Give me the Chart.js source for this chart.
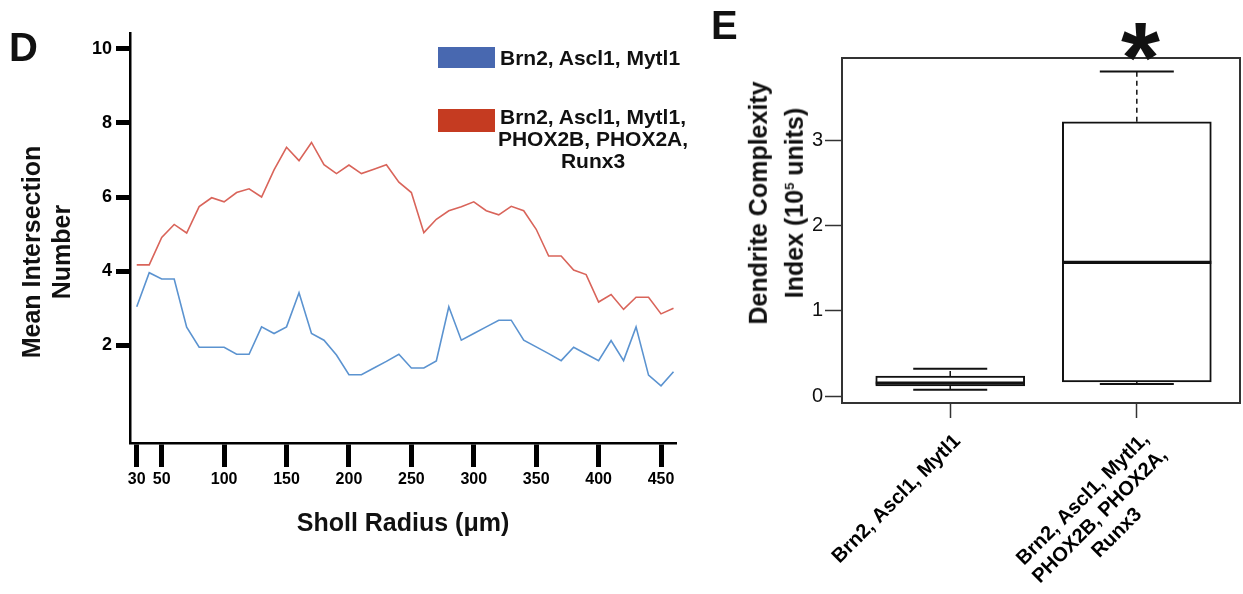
<!DOCTYPE html>
<html>
<head>
<meta charset="utf-8">
<script src="https://cdn.jsdelivr.net/npm/chart.js@4.4.1/dist/chart.umd.min.js"></script>
<style>
  body { margin: 0; background: #fff; font-family: "Liberation Sans", Arial, sans-serif; }
  #page { position: relative; width: 1243px; height: 594px; overflow: hidden; }
  .panel { position: absolute; top: 0; height: 594px; }
  .txt { position: absolute; font-weight: bold; color: #111; white-space: nowrap; }
  .ytitle { position: absolute; font-weight: bold; color: #111; font-size: 25px; text-align: center; white-space: nowrap;
            transform: translate(-50%, -50%) rotate(-90deg); }
  .swatch { position: absolute; width: 57px; }
</style>
</head>
<body>
<div id="page">
  <div class="panel" style="left:0; width:700px;"><canvas id="sholl-chart"></canvas></div>
  <div class="panel" style="left:700px; width:543px;"><canvas id="dci-chart"></canvas></div>

  <div class="txt" style="left:9px; top:27px; font-size:40px; line-height:40px;">D</div>
  <div class="txt" style="left:711px; top:5px; font-size:40px; line-height:40px;">E</div>
  <div class="txt" style="left:1121px; top:7px; font-size:100px; line-height:100px;">*</div>

  <div class="ytitle" style="left:46px; top:252px; line-height:30px;">Mean Intersection<br>Number</div>
  <div class="ytitle" style="left:776px; top:203px; line-height:32px;">Dendrite Complexity<br>Index (10<sup style="font-size:13px;">5</sup> units)</div>

  <div class="swatch" style="left:438px; top:47px; height:21px; background:#4868b0;"></div>
  <div class="txt" id="leg1" style="left:500px; top:46px; font-size:21px; line-height:24px;"></div>
  <div class="swatch" style="left:438px; top:109px; height:23px; background:#c53b21;"></div>
  <div class="txt" id="leg2" style="left:593px; top:106px; font-size:21px; line-height:22px; text-align:center; transform:translateX(-50%);"></div>
</div>

<script>
// panel D: Sholl analysis
const seriesNames = ['Brn2, Ascl1, Mytl1', 'Brn2, Ascl1, Mytl1, PHOX2B, PHOX2A, Runx3'];
const radii = [30, 40, 50, 60, 70, 80, 90, 100, 110, 120, 130, 140, 150, 160, 170, 180, 190, 200, 210, 220, 230, 240,
               250, 260, 270, 280, 290, 300, 310, 320, 330, 340, 350, 360, 370, 380, 390, 400, 410, 420, 430, 440, 450, 460];
const blueCounts = [3.04, 3.96, 3.79, 3.79, 2.49, 1.95, 1.95, 1.95, 1.76, 1.76, 2.50, 2.32, 2.50, 3.42, 2.32, 2.14, 1.74, 1.21, 1.21, 1.39, 1.57, 1.76,
                    1.39, 1.39, 1.58, 3.04, 2.14, 2.32, 2.50, 2.68, 2.68, 2.14, 1.96, 1.78, 1.59, 1.95, 1.77, 1.59, 2.13, 1.59, 2.50, 1.20, 0.91, 1.29];
const redCounts = [4.17, 4.17, 4.91, 5.26, 5.03, 5.74, 5.98, 5.87, 6.12, 6.22, 6.00, 6.73, 7.34, 6.98, 7.47, 6.87, 6.63, 6.86, 6.63, 6.75, 6.87, 6.40,
                   6.12, 5.04, 5.40, 5.63, 5.74, 5.87, 5.63, 5.52, 5.75, 5.63, 5.13, 4.41, 4.41, 4.03, 3.91, 3.17, 3.37, 2.97, 3.30, 3.30, 2.85, 3.00];
const xTicks = [30, 50, 100, 150, 200, 250, 300, 350, 400, 450];
const yTicks = [2, 4, 6, 8, 10];

// panel E: dendrite complexity index box plot
const boxLabels = [['Brn2, Ascl1, Mytl1'], ['Brn2, Ascl1, Mytl1,', 'PHOX2B, PHOX2A,', 'Runx3']];
const boxMin = [0.075, 0.14];
const boxQ1 = [0.118, 0.165];
const boxMedian = [0.153, 1.57];
const boxQ3 = [0.235, 3.22];
const boxMax = [0.32, 3.81];
const dciTicks = [0, 1, 2, 3];

document.getElementById('leg1').textContent = seriesNames[0];
document.getElementById('leg2').innerHTML = 'Brn2, Ascl1, Mytl1,<br>PHOX2B, PHOX2A,<br>Runx3';

Chart.defaults.font.family = '"Liberation Sans", Arial, sans-serif';
Chart.defaults.color = '#000';

const shollChart = new Chart(document.getElementById('sholl-chart'), {
  type: 'line',
  data: {
    datasets: [
      {
        label: seriesNames[0],
        data: radii.map((r, i) => ({x: r, y: blueCounts[i]})),
        borderColor: '#5b93d0',
        borderWidth: 1.6,
        pointRadius: 0,
      },
      {
        label: seriesNames[1],
        data: radii.map((r, i) => ({x: r, y: redCounts[i]})),
        borderColor: '#d9645a',
        borderWidth: 1.6,
        pointRadius: 0,
      }
    ]
  },
  options: {
    responsive: true,
    maintainAspectRatio: false,
    animation: false,
    layout: {padding: {top: 33, right: 24, left: 0, bottom: 0}},
    plugins: {legend: {display: false}, tooltip: {enabled: false}},
    scales: {
      x: {
        type: 'linear',
        min: 24.6,
        max: 462,
        afterBuildTicks: s => { s.ticks = xTicks.map(v => ({value: v})); },
        ticks: {autoSkip: false, maxRotation: 0, padding: 3, font: {size: 16, weight: 'bold'}, color: '#000'},
        grid: {drawOnChartArea: false, tickLength: 24, tickWidth: 5, tickColor: '#000'},
        border: {width: 2.5, color: '#000'},
        title: {display: true, text: 'Sholl Radius (\u03bcm)', font: {size: 25, weight: 'bold'}, color: '#111', padding: {top: 0, bottom: 55}},
        afterFit: s => { s.height = 151; s.paddingLeft = 0; s.paddingRight = 0; }
      },
      y: {
        min: -0.63,
        max: 10.42,
        afterBuildTicks: s => { s.ticks = yTicks.map(v => ({value: v})); },
        ticks: {padding: 4, font: {size: 18, weight: 'bold'}, color: '#000'},
        grid: {drawOnChartArea: false, tickLength: 14, tickWidth: 5, tickColor: '#000'},
        border: {width: 2.5, color: '#000'},
        afterFit: s => { s.width = 130; s.paddingTop = 0; s.paddingBottom = 0; }
      }
    }
  }
});

// whiskers, medians, the closed frame and the slanted group names of the box plot
const boxWhiskers = {
  id: 'boxWhiskers',
  afterDatasetsDraw(chart) {
    const {ctx, chartArea: a, scales: {x, y}} = chart;
    const seg = (x1, y1, x2, y2) => { ctx.beginPath(); ctx.moveTo(x1, y1); ctx.lineTo(x2, y2); ctx.stroke(); };
    ctx.save();
    ctx.strokeStyle = '#111';
    boxLabels.forEach((l, i) => {
      const cx = x.getPixelForValue(i + 1);
      const half = 74.5, cap = 37;
      ctx.lineWidth = 1.5;
      ctx.setLineDash([5, 4]);
      seg(cx, y.getPixelForValue(boxQ3[i]), cx, y.getPixelForValue(boxMax[i]));
      seg(cx, y.getPixelForValue(boxQ1[i]), cx, y.getPixelForValue(boxMin[i]));
      ctx.setLineDash([]);
      ctx.lineWidth = 2;
      seg(cx - cap, y.getPixelForValue(boxMax[i]), cx + cap, y.getPixelForValue(boxMax[i]));
      seg(cx - cap, y.getPixelForValue(boxMin[i]), cx + cap, y.getPixelForValue(boxMin[i]));
      ctx.lineWidth = 3.2;
      seg(cx - half, y.getPixelForValue(boxMedian[i]), cx + half, y.getPixelForValue(boxMedian[i]));
    });
    ctx.strokeStyle = '#333';
    ctx.lineWidth = 2;
    ctx.strokeRect(a.left, a.top, a.right - a.left, a.bottom - a.top);
    ctx.restore();
  },
  afterDraw(chart) {
    const {ctx, chartArea: a, scales: {x}} = chart;
    ctx.save();
    ctx.fillStyle = '#000';
    ctx.font = 'bold 20px "Liberation Sans", Arial, sans-serif';
    ctx.textAlign = 'center';
    ctx.textBaseline = 'middle';
    boxLabels.forEach((lines, i) => {
      ctx.save();
      ctx.translate(x.getPixelForValue(i + 1), a.bottom);
      ctx.rotate(-Math.PI / 4);
      lines.forEach((t, j) => ctx.fillText(t, -106, 30 + 24 * j));
      ctx.restore();
    });
    ctx.restore();
  }
};

const dciChart = new Chart(document.getElementById('dci-chart'), {
  type: 'bar',
  data: {
    datasets: [{
      data: boxLabels.map((l, i) => ({x: i + 1, y: [boxQ1[i], boxQ3[i]]})),
      backgroundColor: '#fff',
      borderColor: '#111',
      borderWidth: 2,
      borderSkipped: false,
      barThickness: 149
    }]
  },
  options: {
    responsive: true,
    maintainAspectRatio: false,
    animation: false,
    layout: {padding: {top: 58, right: 3, left: 0, bottom: 0}},
    plugins: {legend: {display: false}, tooltip: {enabled: false}},
    scales: {
      x: {
        type: 'linear',
        offset: false,
        min: 0.42,
        max: 2.553,
        afterBuildTicks: s => { s.ticks = boxLabels.map((l, i) => ({value: i + 1})); },
        ticks: {display: false},
        grid: {offset: false, drawOnChartArea: false, tickLength: 15, tickWidth: 1.5, tickColor: '#333'},
        border: {width: 2, color: '#333'},
        afterFit: s => { s.height = 191; s.paddingLeft = 0; s.paddingRight = 0; }
      },
      y: {
        min: -0.082,
        max: 3.97,
        afterBuildTicks: s => { s.ticks = dciTicks.map(v => ({value: v})); },
        ticks: {padding: 2, font: {size: 20}, color: '#111'},
        grid: {drawOnChartArea: false, tickLength: 17, tickWidth: 1.5, tickColor: '#333'},
        border: {width: 2, color: '#333'},
        afterFit: s => { s.width = 142; s.paddingTop = 0; s.paddingBottom = 0; }
      }
    }
  },
  plugins: [boxWhiskers]
});
</script>
</body>
</html>
